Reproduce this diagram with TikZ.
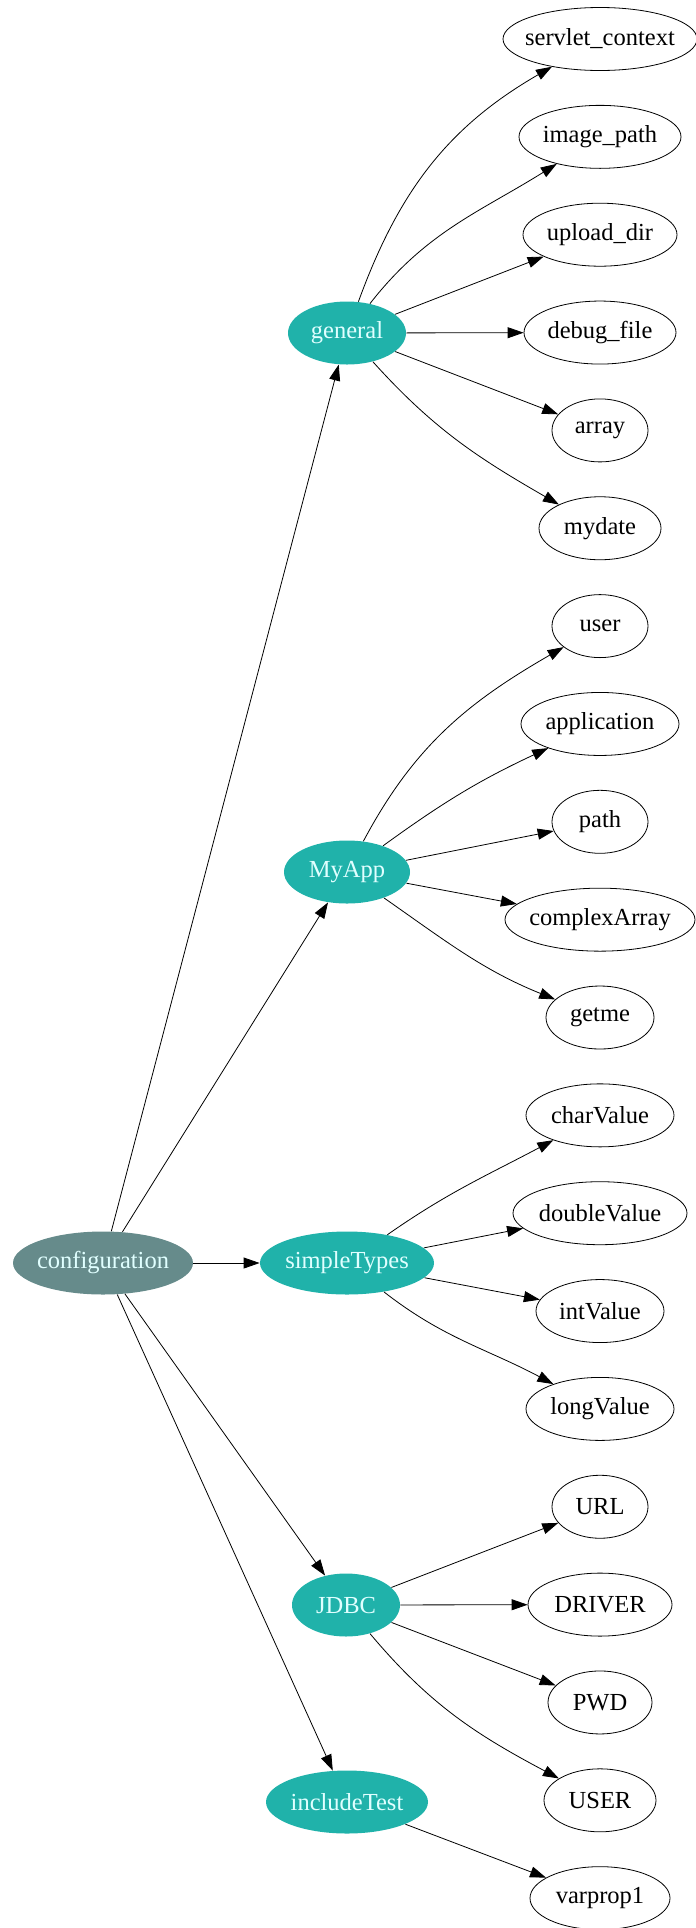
\documentclass[tikz,border=0pt]{standalone}
\usepackage{fontspec}
\setmainfont{Liberation Serif}
\usetikzlibrary{shapes.geometric,arrows.meta}
\definecolor{seagreen}{HTML}{20B2AA}
\definecolor{slateteal}{HTML}{668B8B}
\definecolor{lightcyan}{HTML}{E0FFFF}
\tikzset{
    x=1pt, y=1pt,
    oval/.style={ellipse, inner sep=0pt, minimum height=63pt, line width=0.8pt,
        font=\fontsize{24.5}{28}\selectfont},
    leaf/.style={oval, draw},
    group/.style={oval, fill=seagreen, text=lightcyan},
    root/.style={oval, fill=slateteal, text=lightcyan},
    edge/.style={line width=0.8pt, -{Triangle[length=16pt,width=11pt]}}
}
\begin{document}
\begin{tikzpicture}
    \useasboundingbox (0,0) rectangle (696,-1928);
    % parents
    \node[root, minimum width=180pt] (conf) at (103,-1263) {\makebox[0pt]{configuration}};
    \node[group, minimum width=118pt] (general) at (347,-333) {\makebox[0pt]{general}};
    \node[group, minimum width=126pt] (myapp) at (347,-872) {\makebox[0pt]{MyApp}};
    \node[group, minimum width=174pt] (simple) at (347,-1263) {\makebox[0pt]{simpleTypes}};
    \node[group, minimum width=108pt] (jdbc) at (346,-1605) {\makebox[0pt]{JDBC}};
    \node[group, minimum width=162pt] (include) at (347,-1802) {\makebox[0pt]{includeTest}};
    % leaves, one per row
    \foreach \name/\txt/\w [count=\i from 0] in {
        servlet/servlet\_context/194, imagepath/image\_path/162, uploaddir/upload\_dir/154,
        debugfile/debug\_file/152, array/array/96, mydate/mydate/122,
        user/user/96, application/application/158, path/path/96,
        complexarray/complexArray/190, getme/getme/108,
        charvalue/charValue/148, doublevalue/doubleValue/174, intvalue/intValue/128,
        longvalue/longValue/148,
        url/URL/96, driver/DRIVER/144, pwd/PWD/104, dbuser/USER/112,
        varprop/varprop1/140} {
        \node[leaf, minimum width=\w pt] (\name) at (600,{-39-97.85*\i}) {\makebox[0pt]{\txt}};
    }
    % configuration
    \draw[edge] (conf) -- (general);
    \draw[edge] (conf) -- (myapp);
    \draw[edge] (conf) -- (simple);
    \draw[edge] (conf) -- (jdbc);
    \draw[edge] (conf) -- (include);
    % general
    \draw[edge] (general) to[out=70, in=210] (servlet);
    \draw[edge] (general) to[out=52, in=212] (imagepath);
    \draw[edge] (general) -- (uploaddir);
    \draw[edge] (general) -- (debugfile);
    \draw[edge] (general) -- (array);
    \draw[edge] (general) to[out=-48, in=150] (mydate);
    % MyApp
    \draw[edge] (myapp) to[out=62, in=210] (user);
    \draw[edge] (myapp) to[out=36, in=205] (application);
    \draw[edge] (myapp) -- (path);
    \draw[edge] (myapp) -- (complexarray);
    \draw[edge] (myapp) to[out=-35, in=158] (getme);
    % simpleTypes
    \draw[edge] (simple) to[out=35, in=208] (charvalue);
    \draw[edge] (simple) -- (doublevalue);
    \draw[edge] (simple) -- (intvalue);
    \draw[edge] (simple) to[out=-38, in=152] (longvalue);
    % JDBC
    \draw[edge] (jdbc) -- (url);
    \draw[edge] (jdbc) -- (driver);
    \draw[edge] (jdbc) -- (pwd);
    \draw[edge] (jdbc) to[out=-50, in=152] (dbuser);
    % includeTest
    \draw[edge] (include) -- (varprop);
\end{tikzpicture}
\end{document}
